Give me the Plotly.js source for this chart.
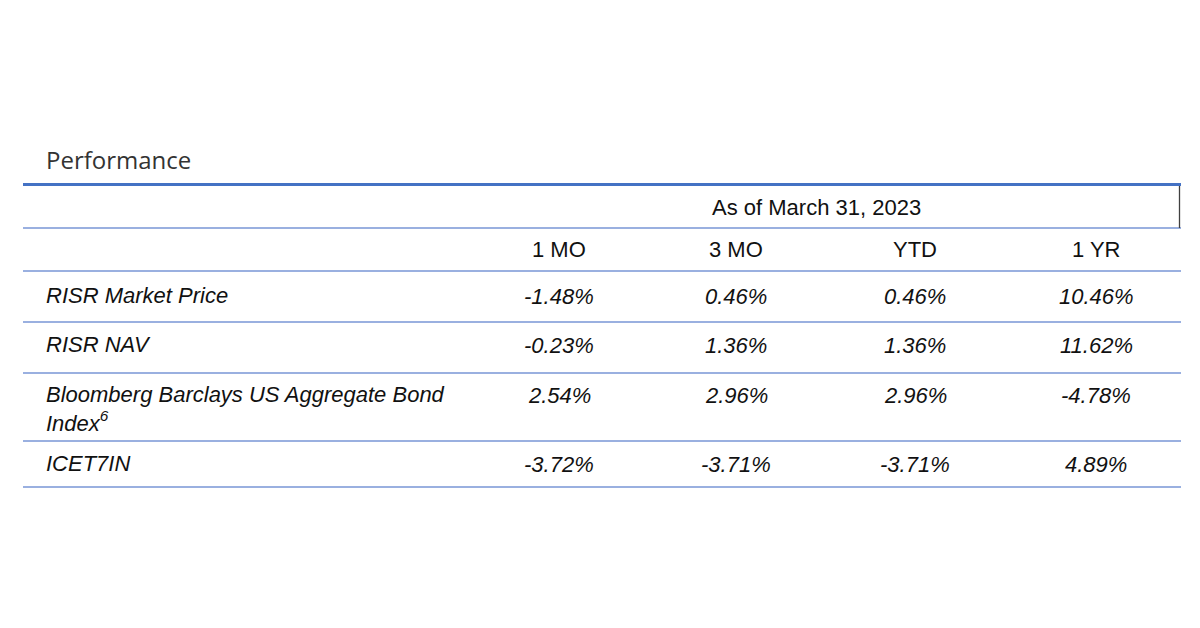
<!DOCTYPE html>
<html>
<head>
<meta charset="utf-8">
<script src="https://cdn.plot.ly/plotly-3.0.1.min.js"></script>
<style>
  html, body { margin: 0; padding: 0; background: #fff; }
  #chart { width: 1200px; height: 628px; }
</style>
</head>
<body>
<div id="chart"></div>
<script>
// table content
const periodLabel = "As of March 31, 2023";
const columns = ["1 MO", "3 MO", "YTD", "1 YR"];
const rowLabels = [
  "RISR Market Price",
  "RISR NAV",
  "Bloomberg Barclays US Aggregate Bond<br>Index<sup>6</sup>",
  "ICET7IN",
];
const oneMonth = ["-1.48%", "-0.23%", "2.54%", "-3.72%"];
const threeMonth = ["0.46%", "1.36%", "2.96%", "-3.71%"];
const yearToDate = ["0.46%", "1.36%", "2.96%", "-3.71%"];
const oneYear = ["10.46%", "11.62%", "-4.78%", "4.89%"];

// layout grid (pixel-like axis units)
const colX = [559, 736, 915, 1096];
const labelX = 45;
const rowTop = [282, 331, 381, 450];
const headerY = 249;
const periodY = 207;
const periodX = 816;
const ruleY = [228, 271, 322, 373, 441, 487];
const left = 23, right = 1181;

const txt = { family: "Liberation Sans, Arial, sans-serif", size: 22, color: "#111" };
const italic = Object.assign({}, txt, { style: "italic" });

const annotations = [];
const valueCols = [oneMonth, threeMonth, yearToDate, oneYear];

columns.forEach((c, j) => {
  annotations.push({ x: colX[j], y: headerY, xref: "x", yref: "y", text: c,
    showarrow: false, font: txt, xanchor: "center", yanchor: "middle" });
  valueCols[j].forEach((v, i) => {
    annotations.push({ x: colX[j], y: rowTop[i], xref: "x", yref: "y", text: v,
      showarrow: false, font: italic, xanchor: "center", yanchor: "top" });
  });
});

rowLabels.forEach((r, i) => {
  annotations.push({ x: labelX, y: rowTop[i], xref: "x", yref: "y", text: r,
    showarrow: false, font: italic, xanchor: "left", yanchor: "top", align: "left",
    borderpad: 0 });
});

annotations.push({ x: periodX, y: periodY, xref: "x", yref: "y",
  text: periodLabel, showarrow: false, font: txt, xanchor: "center", yanchor: "middle" });

annotations.push({ x: 45, y: 159, xref: "x", yref: "y", text: "Performance",
  showarrow: false, font: { family: "Open Sans, Noto Sans, sans-serif", size: 24, color: "#333" },
  xanchor: "left", yanchor: "middle", borderpad: 0 });

const shapes = ruleY.map(y => ({
  type: "line", xref: "x", yref: "y", x0: left, x1: right, y0: y, y1: y,
  line: { color: "#7896d6", width: 1.3 },
}));
shapes.push({ type: "line", xref: "x", yref: "y", x0: left, x1: right, y0: 184.5, y1: 184.5,
  line: { color: "#4472c4", width: 3 } });
shapes.push({ type: "line", xref: "x", yref: "y", x0: 1179.5, x1: 1179.5, y0: 186, y1: 228,
  line: { color: "#404040", width: 1.3 } });

Plotly.newPlot("chart", [], {
  width: 1200,
  height: 628,
  margin: { l: 0, r: 0, t: 0, b: 0 },
  paper_bgcolor: "#fff",
  plot_bgcolor: "#fff",
  showlegend: false,
  xaxis: { range: [0, 1200], visible: false, fixedrange: true },
  yaxis: { range: [628, 0], visible: false, fixedrange: true },
  annotations: annotations,
  shapes: shapes,
}, { displayModeBar: false, staticPlot: true });
</script>
</body>
</html>
